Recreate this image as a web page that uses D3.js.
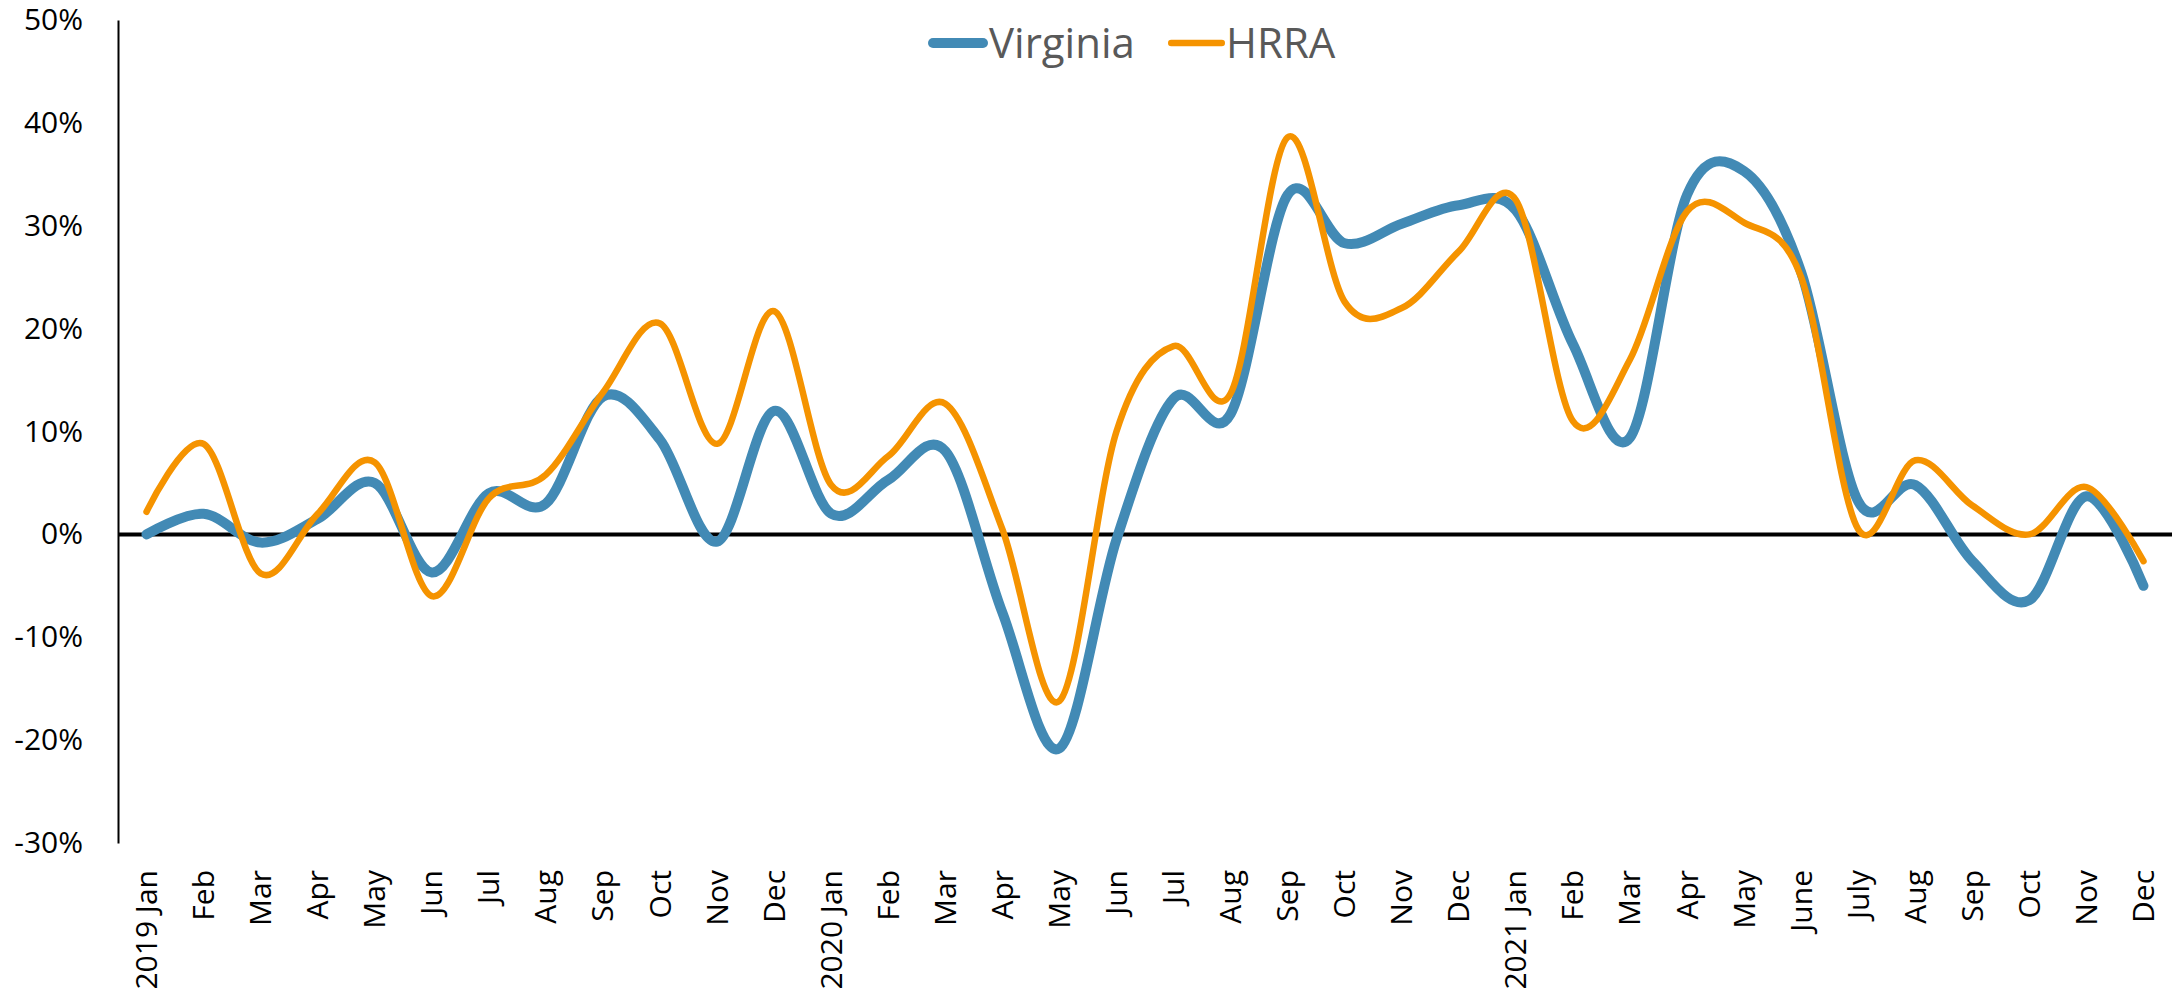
<!DOCTYPE html>
<html>
<head>
<meta charset="utf-8">
<script src="https://cdn.jsdelivr.net/npm/d3@7"></script>
<style>
  body { margin: 0; background: #fff; }
  svg text { font-family: "Open Sans", "Noto Sans", sans-serif; }
</style>
</head>
<body>
<svg id="chart" width="2182" height="996"></svg>
<script>
// month labels, one per point
var months = ['2019 Jan','Feb','Mar','Apr','May','Jun','Jul','Aug','Sep','Oct','Nov','Dec',
    '2020 Jan','Feb','Mar','Apr','May','Jun','Jul','Aug','Sep','Oct','Nov','Dec',
    '2021 Jan','Feb','Mar','Apr','May','June','July','Aug','Sep','Oct','Nov','Dec'];

// percent change values
var virginia = [0, 2, -0.8, 1.5, 5, -3.7, 4, 3, 13.4, 9.2, -0.7, 12,
    2, 5.3, 8.1, -7.6, -20.8, -0.5, 13.2, 11.7, 33, 28.3, 30.2, 32,
    31.5, 18.5, 9.4, 33, 35.3, 25.5, 3.2, 4.8, -2.6, -6.4, 3.7, -5];

var hrra = [2.2, 8.8, -3.8, 2, 7, -6, 3.5, 5.8, 13.8, 20.5, 8.8, 21.7,
    4.8, 7.6, 12.7, 0.5, -16.2, 10, 18.3, 13.7, 38.6, 22.6, 22, 27.5,
    32.5, 11, 17, 31.4, 30.3, 25, 0.5, 7.2, 2.8, 0, 4.6, -2.6];

var yTicks = [-30, -20, -10, 0, 10, 20, 30, 40, 50];

var seriesNames = ['Virginia', 'HRRA'];
var seriesColors = ['#428ab5', '#f59300'];
var seriesWidths = [10, 6.5];

var svg = d3.select('#chart');

var padding = {t: 20, r: 10, b: 153, l: 118};
var chartWidth = 2172 - padding.l;
var chartHeight = 843 - padding.t;

var chartG = svg.append('g')
    .attr('transform', 'translate(' + [padding.l, padding.t] + ')');

var xScale = d3.scaleBand()
    .domain(d3.range(months.length))
    .range([0, chartWidth]);

var yScale = d3.scaleLinear()
    .domain([-30, 50])
    .range([chartHeight, 0]);

function xPos(i) { return xScale(i) + xScale.bandwidth() / 2; }

// y axis
var yAxis = d3.axisLeft(yScale)
    .tickValues(yTicks)
    .tickSize(0)
    .tickPadding(35)
    .tickFormat(function(d) { return d + '%'; });

var yAxisG = chartG.append('g')
    .attr('class', 'y axis')
    .call(yAxis);
yAxisG.select('.domain').attr('stroke', '#000').attr('stroke-width', 2);
yAxisG.selectAll('text')
    .attr('font-size', 30)
    .attr('fill', '#000')
    .style('font-family', '"Open Sans", sans-serif');

// zero line
chartG.append('line')
    .attr('x1', 0)
    .attr('x2', chartWidth)
    .attr('y1', yScale(0))
    .attr('y2', yScale(0))
    .attr('stroke', '#000')
    .attr('stroke-width', 4);

// x labels, rotated
chartG.selectAll('.x-label')
    .data(months)
    .enter().append('text')
    .attr('class', 'x-label')
    .attr('transform', function(d, i) { return 'translate(' + xPos(i) + ',' + (870 - padding.t) + ') rotate(-90)'; })
    .attr('text-anchor', 'end')
    .attr('dy', '0.35em')
    .attr('font-size', 30)
    .attr('fill', '#000')
    .text(function(d) { return d; });

// lines
var line = d3.line()
    .x(function(d, i) { return xPos(i); })
    .y(function(d) { return yScale(d); })
    .curve(d3.curveCatmullRom.alpha(0));

[virginia, hrra].forEach(function(values, k) {
    chartG.append('path')
        .datum(values)
        .attr('fill', 'none')
        .attr('stroke', seriesColors[k])
        .attr('stroke-width', seriesWidths[k])
        .attr('stroke-linecap', 'round')
        .attr('stroke-linejoin', 'round')
        .attr('d', line);
});

// legend
var legend = svg.append('g').attr('class', 'legend');
var legendX = [928, 1168];
var legendLen = [60, 57];
seriesNames.forEach(function(name, k) {
    legend.append('line')
        .attr('x1', legendX[k] + seriesWidths[k] / 2)
        .attr('x2', legendX[k] + legendLen[k] - seriesWidths[k] / 2)
        .attr('y1', 43)
        .attr('y2', 43)
        .attr('stroke', seriesColors[k])
        .attr('stroke-width', seriesWidths[k])
        .attr('stroke-linecap', 'round');
    legend.append('text')
        .attr('x', legendX[k] + legendLen[k] + 1)
        .attr('y', 58)
        .attr('font-size', 42)
        .attr('fill', '#595959')
        .text(name);
});
</script>
</body>
</html>
